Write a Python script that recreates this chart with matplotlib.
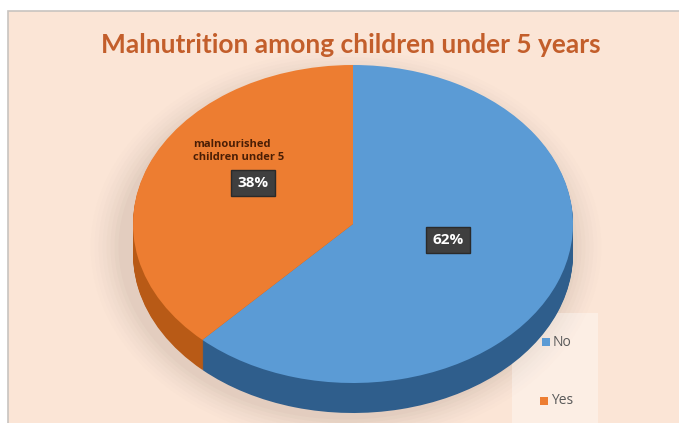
import matplotlib
matplotlib.use("Agg")
import matplotlib.pyplot as plt
from matplotlib.patches import Rectangle, Ellipse
import numpy as np

# ---- data ----
categories = ["No", "Yes"]
values = [62, 38]
pct_labels = ["62%", "38%"]
annot_text = "malnourished\nchildren under 5"
title = "Malnutrition among children under 5 years"

top_colors = ["#5B9BD5", "#ED7D31"]
side_colors = ["#2F5E8C", "#B85A16"]

W, H = 679, 423
fig = plt.figure(figsize=(W / 100, H / 100), dpi=100)
fig.patch.set_facecolor("white")

def fx(x):
    return x / W

def fy(y):
    return 1 - y / H

# background panel
bg = fig.add_axes([0, 0, 1, 1])
bg.set_xlim(0, W)
bg.set_ylim(H, 0)
bg.axis("off")
bg.add_patch(Rectangle((8, 11), W + 20, H + 20, facecolor="#FBE5D6",
                       edgecolor="#C8C4C0", linewidth=1.2))
# soft shadow under pie
for i, a in enumerate(np.linspace(0.05, 0.012, 8)):
    bg.add_patch(Ellipse((346, 247), 455 + i * 8, 345 + i * 7,
                         facecolor="#9C8A80", edgecolor="none", alpha=a))

# pie axes: ellipse geometry
cx, top_y, rx, ry, depth = 353, 65, 220, 159, 30
dd = depth / ry
pax = fig.add_axes([fx(cx - rx), fy(top_y + 2 * ry + depth),
                    2 * rx / W, (2 * ry + depth) / H])
pax.axis("off")

nlayers = 30
for k in range(nlayers, 0, -1):
    off = dd * k / nlayers
    pax.pie(values, colors=side_colors, startangle=90, counterclock=False,
            center=(0, -off), radius=1,
            wedgeprops=dict(linewidth=0, antialiased=True))
wedges, _ = pax.pie(values, colors=top_colors, startangle=90, counterclock=False,
                    center=(0, 0), radius=1,
                    wedgeprops=dict(linewidth=0.6, edgecolor="none"))
pax.set_aspect("auto")
pax.set_xlim(-1, 1)
pax.set_ylim(-1 - dd, 1)

# percentage labels
box = dict(boxstyle="square,pad=0.4", facecolor="#3F3F3F", edgecolor="#2A2A2A")
label_pos = [(448, 240), (253, 183)]
for txt, (x, y) in zip(pct_labels, label_pos):
    fig.text(fx(x), fy(y), txt, ha="center", va="center", color="white",
             fontsize=11, fontweight="bold", family="Open Sans", bbox=box)

fig.text(fx(193), fy(151), annot_text, ha="left", va="center",
         color="#4A1E05", fontsize=8, fontweight="bold", family="Open Sans",
         linespacing=1.2)

# title
fig.text(fx(351), fy(45), title, ha="center", va="center", color="#C35E2B",
         fontsize=19, fontweight="bold", family="Lato")

# legend panel
bg.add_patch(Rectangle((512, 313), 86, 115, facecolor="white", alpha=0.35,
                       edgecolor="none"))
leg_pos = [(546, 342), (544, 401)]
for cat, col, (x, y) in zip(categories, top_colors, leg_pos):
    bg.add_patch(Rectangle((x - 4, y - 4), 8, 8, facecolor=col, edgecolor="none"))
    bg.text(x + 7, y, cat, ha="left", va="center", color="#595959",
            fontsize=10, family="Open Sans")

fig.savefig("out.png", dpi=100)
